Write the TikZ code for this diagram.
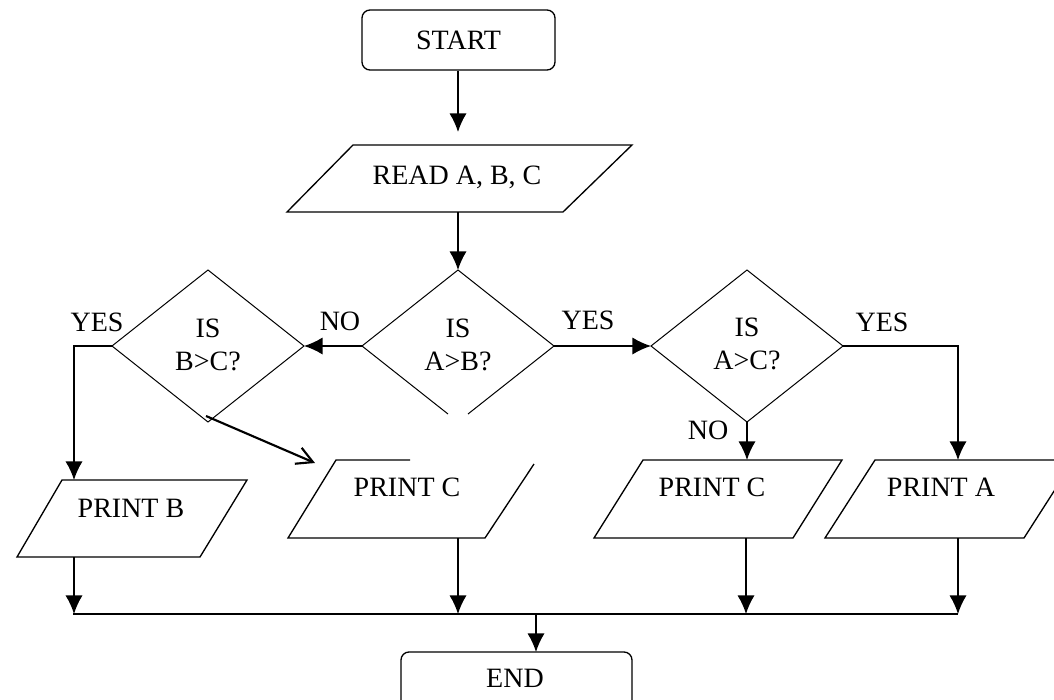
\documentclass[tikz,border=0pt]{standalone}
\usepackage{fontspec}
\setmainfont{Liberation Serif}
\usetikzlibrary{arrows.meta}

\begin{document}
\begin{tikzpicture}[x=0.75pt,y=-0.75pt,
  txt/.style={font=\fontsize{21}{25}\selectfont, inner sep=0pt, text depth=0pt, align=center},
  term/.style={draw, line width=1pt, rectangle, rounded corners=6pt,
               minimum width=#1, minimum height=45pt, inner sep=0pt,
               font=\fontsize{21}{25}\selectfont},
  outline/.style={line width=1pt, line join=miter},
  thinline/.style={line width=0.75pt},
  wire/.style={line width=1.2pt},
  flow/.style={line width=1.2pt, -{Latex[length=14pt,width=13pt]}},
  barb/.style={line width=1.6pt, -{Straight Barb[length=12pt,width=13pt]}}]

\clip (0,0) rectangle (1054,700);
\fill[white] (0,0) rectangle (1054,700);

% ---- terminals
\node[term=144.75pt] (start) at (458.5,40) {START};
\node[term=173.25pt] (end) at (516.5,682) {};
\node[txt] (endtxt) at (515,678) {END};

% ---- input box
\coordinate (rd-tl) at (353,145);
\coordinate (rd-tr) at (632,145);
\coordinate (rd-br) at (563,212);
\coordinate (rd-bl) at (287,212);
\draw[outline] (rd-tl) -- (rd-tr) -- (rd-br) -- (rd-bl) -- cycle;
\node[txt] (read) at (457,175) {READ A, B, C};
\coordinate (rd-in) at (458,132);
\coordinate (rd-out) at (458,212);

% ---- decision A>B (lower tip left open)
\coordinate (ab-t) at (458,270);
\coordinate (ab-r) at (554,346);
\coordinate (ab-l) at (362,346);
\draw[thinline] (468,414) -- (ab-r) -- (ab-t) -- (ab-l) -- (448,414);
\node[txt] (ab) at (458,344.5) {IS\\A>B?};

% ---- decision B>C
\coordinate (bc-t) at (208,270);
\coordinate (bc-r) at (304,346);
\coordinate (bc-b) at (208,422);
\coordinate (bc-l) at (112,346);
\draw[thinline] (bc-t) -- (bc-r) -- (bc-b) -- (bc-l) -- cycle;
\node[txt] (bc) at (208,345) {IS\\B>C?};

% ---- decision A>C
\coordinate (ac-t) at (747,270);
\coordinate (ac-r) at (843,346);
\coordinate (ac-b) at (747,422);
\coordinate (ac-l) at (651,346);
\draw[thinline] (ac-t) -- (ac-r) -- (ac-b) -- (ac-l) -- cycle;
\node[txt] (ac) at (747,343.5) {IS\\A>C?};

% ---- output boxes
\draw[outline] (62,480) -- (247,480) -- (200,557) -- (17,557) -- cycle;
\node[txt] (pb) at (131,508) {PRINT B};
\coordinate (pb-in) at (74,480);
\coordinate (pb-out) at (74,557);

\draw[outline] (410,460) -- (336,460) -- (288,538) -- (485,538) -- (534,464);
\node[txt] (pc1) at (407,487) {PRINT C};
\coordinate (pc1-in) at (315,463);
\coordinate (pc1-out) at (458,538);

\draw[outline] (643,460) -- (842,460) -- (793,538) -- (594,538) -- cycle;
\node[txt] (pc2) at (712,487) {PRINT C};
\coordinate (pc2-in) at (747,460);
\coordinate (pc2-out) at (746,538);

\draw[outline] (875,460) -- (1074,460) -- (1024,538) -- (825,538) -- cycle;
\node[txt] (pa) at (941,487) {PRINT A};
\coordinate (pa-in) at (958,460);
\coordinate (pa-out) at (958,538);

% ---- collecting line
\coordinate (bus-l) at (73,614);
\coordinate (bus-r) at (958,614);
\coordinate (bus-pb) at (74,614);
\coordinate (bus-pc1) at (458,614);
\coordinate (bus-pc2) at (746,614);
\coordinate (bus-pa) at (958,614);
\coordinate (bus-end) at (536,614);
\coordinate (end-in) at (536,652);
\coordinate (bc-out) at (206,416);

% ---- connectors
\draw[flow] (start.south -| rd-in) -- (rd-in);
\draw[flow] (rd-out) -- (ab-t);
\draw[flow] (ab-l) -- (bc-r);
\draw[flow] (ab-r) -- (ac-l);
\draw[flow] (bc-l) -| (pb-in);
\draw[barb] (bc-out) -- (pc1-in);
\draw[flow] (ac-b) -- (pc2-in);
\draw[flow] (ac-r) -| (pa-in);

\draw[flow] (pb-out) -- (bus-pb);
\draw[flow] (pc1-out) -- (bus-pc1);
\draw[flow] (pc2-out) -- (bus-pc2);
\draw[flow] (pa-out) -- (bus-pa);
\draw[wire] (bus-l) -- (bus-r);
\draw[flow] (bus-end) -- (end-in);

% ---- branch labels
\node[txt] (yes1) at (97,322) {YES};
\node[txt] (no1) at (340,321) {NO};
\node[txt] (yes2) at (588,320) {YES};
\node[txt] (yes3) at (882,322) {YES};
\node[txt] (no2) at (708,430) {NO};
\end{tikzpicture}
\end{document}
